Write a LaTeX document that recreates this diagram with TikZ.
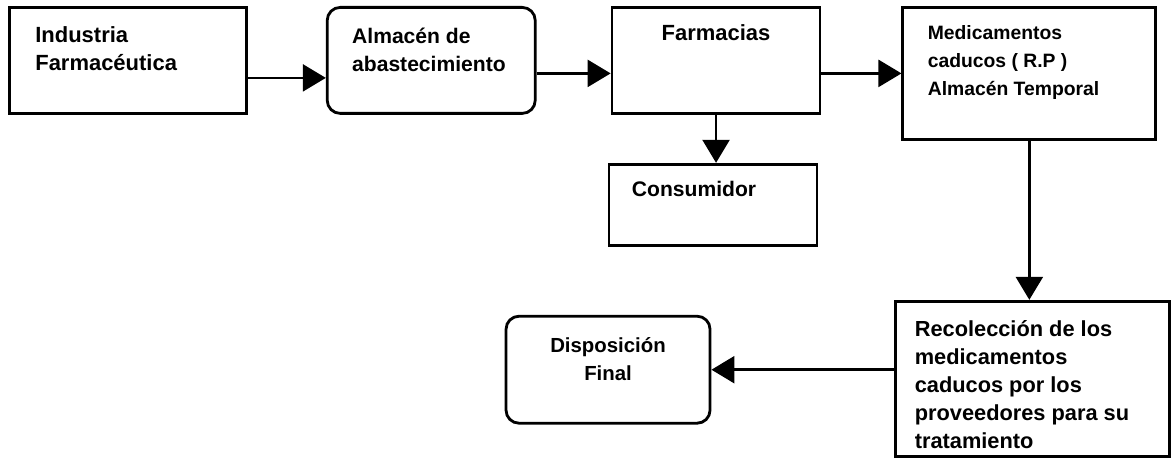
\documentclass[tikz,border=0pt]{standalone}
\usepackage{fontspec}
\setmainfont{Liberation Sans}
\usetikzlibrary{positioning,arrows.meta}

\tikzset{
	box/.style={draw, line width=1.6pt, minimum width=4.16cm, minimum height=2.12cm, inner sep=0pt},
	rbox/.style={box, rounded corners=0.26cm},
	txt/.style={inner sep=0pt, align=left},
	fs/.style={font=\bfseries\fontsize{#1}{16}\selectfont},
	arr/.style={line width=1.4pt, -{Triangle[length=4.6mm,width=5.4mm]}},
}

\begin{document}
\begin{tikzpicture}
	\useasboundingbox (0,0) rectangle (23.48,-9.22);
	% top row
	\node[box, minimum width=4.74cm, anchor=north west] (ind) at (0.16,-0.12) {};
	\node[rbox, right=1.56cm of ind.north east, anchor=north west] (alm) {};
	\node[box, right=1.48cm of alm.north east, anchor=north west] (far) {};
	\node[box, minimum width=5.06cm, minimum height=2.64cm, right=1.6cm of far.north east, anchor=north west] (med) {};
	% lower row
	\node[box, minimum height=1.62cm, below=0.96cm of far.south west, anchor=north west, xshift=-0.06cm] (con) {};
	\node[box, minimum width=5.48cm, minimum height=3.1cm, below=3.18cm of med.south west, anchor=north west, xshift=-0.14cm] (rec) {};
	\node[rbox, minimum width=4.08cm, minimum height=2.14cm, left=3.66cm of rec.north west, anchor=north east, yshift=-0.3cm] (dis) {};
	
	\node[txt, fs=12.5, below right=0.4cm and 0.54cm of ind.north west] (indtxt) {Industria\\Farmacéutica};
	\node[txt, fs=12, below right=0.44cm and 0.52cm of alm.north west] (almtxt) {Almacén de\\abastecimiento};
	\node[txt, fs=12.5, below=0.37cm of far.north] (fartxt) {Farmacias};
	\node[txt, fs=11, below right=0.38cm and 0.52cm of med.north west] (medtxt) {Medicamentos\\caducos ( R.P )\\Almacén Temporal};
	\node[txt, fs=12, below right=0.36cm and 0.48cm of con.north west] (contxt) {Consumidor};
	\node[txt, fs=12.4, below right=0.4cm and 0.4cm of rec.north west] (rectxt) {Recolección de los\\medicamentos\\caducos por los\\proveedores para su\\tratamiento};
	\node[txt, fs=11.6, align=center, below=0.44cm of dis.north] (distxt) {Disposición\\Final};
	
	\draw[arr] ([yshift=-0.35cm]ind.east) -- ([yshift=-0.35cm]alm.west);
	\draw[arr] (alm.east |- med.west) -- (far.west |- med.west);
	\draw[arr] (far.east |- med.west) -- (med.west);
	\draw[arr] (far.south) -- (far.south |- con.north);
	\draw[arr] (med.south) -- (med.south |- rec.north);
	\draw[arr] (rec.west |- dis.east) -- (dis.east);
\end{tikzpicture}
\end{document}
